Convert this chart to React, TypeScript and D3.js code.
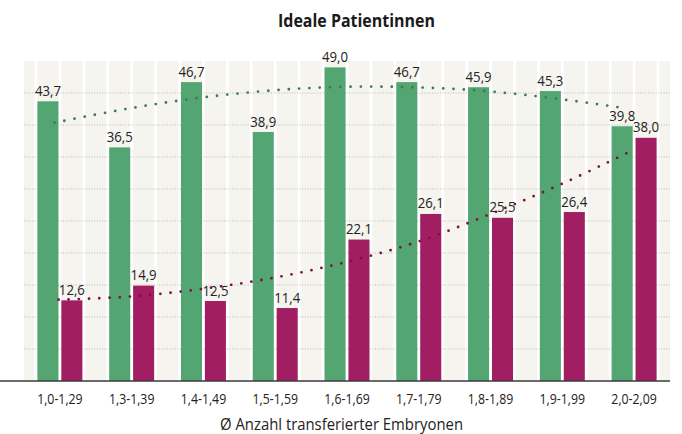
import React from "react";
import * as d3 from "d3";

const categories = ["1,0-1,29", "1,3-1,39", "1,4-1,49", "1,5-1,59", "1,6-1,69", "1,7-1,79", "1,8-1,89", "1,9-1,99", "2,0-2,09"];
const greenValues = [43.7, 36.5, 46.7, 38.9, 49.0, 46.7, 45.9, 45.3, 39.8];
const purpleValues = [12.6, 14.9, 12.5, 11.4, 22.1, 26.1, 25.5, 26.4, 38.0];
const greenTrend = [40.36, 42.5, 44.2, 45.36, 45.96, 45.9, 45.33, 44.15, 42.6];
const purpleTrend = [12.7, 13.2, 14.4, 16.15, 18.6, 21.8, 26.1, 30.85, 36.2];
const yTicks = [5, 10, 15, 20, 25, 30, 35, 40, 45];
const title = "Ideale Patientinnen";
const xTitle = "Ø Anzahl transferierter Embryonen";

const W = 682;
const H = 434;
const left = 24;
const right = 670;
const top = 61;
const bottom = 381;

const GREEN = "#53a572";
const PURPLE = "#a11e62";
const GREEN_DOT = "#3c7c55";
const PURPLE_DOT = "#7c1149";
const BG = "#f5f4ef";
const FONT = "'Open Sans', 'DejaVu Sans', sans-serif";

export default function App() {
  const x = d3.scaleBand<string>().domain(categories).range([left, right]).paddingInner(0).paddingOuter(0);
  const y = d3.scaleLinear().domain([0, 50]).range([bottom, top]);
  const bw = x.bandwidth();
  const slot = bw / 3;
  const gap = 2.9;
  const barW = slot - gap;
  const center = (c: string) => (x(c) as number) + bw / 2;

  const fmt = (v: number) => v.toFixed(1).replace(".", ",");

  const c0 = center(categories[0]);
  const c8 = center(categories[categories.length - 1]);
  const gx = d3.scaleLinear().domain([0, categories.length - 1]).range([c0 - 5.4, c8 - 7.7]);
  const px = d3.scaleLinear().domain([0, categories.length - 1]).range([c0 - 1.3, c8 + 0.5]);

  const greenLine = d3
    .line<number>()
    .x((_, i) => gx(i))
    .y((d) => y(d))
    .curve(d3.curveCatmullRom.alpha(0.5));
  const purpleLine = d3
    .line<number>()
    .x((_, i) => px(i))
    .y((d) => y(d))
    .curve(d3.curveCatmullRom.alpha(0.5));

  const boundaries = d3.range(categories.length + 1).map((i) => left + i * bw);

  return (
    <svg
      width={W}
      height={H}
      style={{ position: "absolute", left: 0, top: 0, background: "#fff" }}
      fontFamily={FONT}
    >
      <defs>
        <clipPath id="plotclip">
          <rect x={left} y={top} width={right - left} height={bottom - top} />
        </clipPath>
      </defs>

      {/* background columns */}
      <g clipPath="url(#plotclip)">
        {boundaries.map((b, i) => (
          <rect key={"e" + i} x={b - barW / 2} y={top} width={barW} height={bottom - top} fill={BG} />
        ))}
        {categories.map((c) => (
          <g key={"bg" + c}>
            <rect x={center(c) - gap / 2 - barW} y={top} width={barW} height={bottom - top} fill={BG} />
            <rect x={center(c) + gap / 2} y={top} width={barW} height={bottom - top} fill={BG} />
          </g>
        ))}
      </g>

      {/* gridlines */}
      {yTicks.map((t) => (
        <line
          key={"g" + t}
          x1={left}
          x2={right}
          y1={y(t)}
          y2={y(t)}
          stroke="#b9b9b6"
          strokeWidth={1}
          strokeDasharray="1 1.6"
        />
      ))}

      {/* bars */}
      {categories.map((c, i) => (
        <g key={"b" + c}>
          <rect
            x={center(c) - gap / 2 - barW}
            y={y(greenValues[i])}
            width={barW}
            height={y(0) - y(greenValues[i])}
            fill={GREEN}
          />
          <rect
            x={center(c) + gap / 2}
            y={y(purpleValues[i])}
            width={barW}
            height={y(0) - y(purpleValues[i])}
            fill={PURPLE}
          />
        </g>
      ))}

      {/* value labels */}
      {categories.map((c, i) => (
        <g key={"l" + c} fontSize={15} fill="#222">
          <g transform={`translate(${center(c) - gap / 2 - barW / 2},${y(greenValues[i]) - 5.5}) scale(0.88,1)`}>
            <text textAnchor="middle">{fmt(greenValues[i])}</text>
          </g>
          <g transform={`translate(${center(c) + gap / 2 + barW / 2},${y(purpleValues[i]) - 5.5}) scale(0.88,1)`}>
            <text textAnchor="middle">{fmt(purpleValues[i])}</text>
          </g>
        </g>
      ))}

      {/* trend lines */}
      <path
        d={greenLine(greenTrend) || ""}
        fill="none"
        stroke={GREEN_DOT}
        strokeWidth={2.8}
        strokeLinecap="round"
        strokeDasharray="0 10.3"
      />
      <path
        d={purpleLine(purpleTrend) || ""}
        fill="none"
        stroke={PURPLE_DOT}
        strokeWidth={2.8}
        strokeLinecap="round"
        strokeDasharray="0 10.2"
      />

      {/* axis baseline */}
      <line x1={0} x2={right} y1={bottom} y2={bottom} stroke="#3a3a3a" strokeWidth={1.5} />

      {/* x tick labels */}
      {categories.map((c) => (
        <g key={"t" + c} transform={`translate(${center(c)},404) scale(0.88,1)`}>
          <text textAnchor="middle" fontSize={14} fill="#222">
            {c}
          </text>
        </g>
      ))}

      {/* x axis title */}
      <text x={341.5} y={429.5} textAnchor="middle" fontSize={15.5} fill="#222" textLength={243} lengthAdjust="spacingAndGlyphs">
        {xTitle}
      </text>

      {/* chart title */}
      <text
        x={356.5}
        y={26.7}
        textAnchor="middle"
        fontSize={18.5}
        fontWeight={700}
        fill="#1a1a1a"
        textLength={157}
        lengthAdjust="spacingAndGlyphs"
      >
        {title}
      </text>
    </svg>
  );
}
